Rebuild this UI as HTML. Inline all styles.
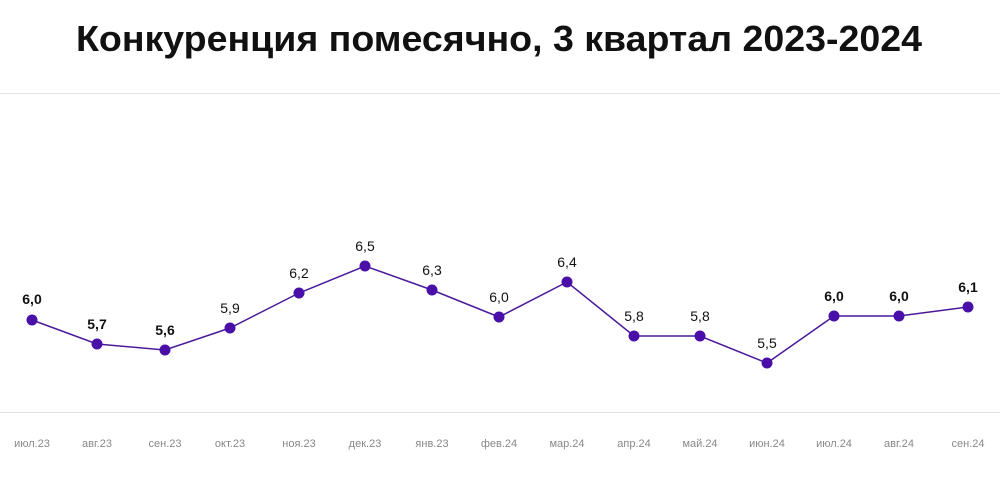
<!DOCTYPE html>
<html><head><meta charset="utf-8"><style>
body{margin:0;background:#fff;width:1000px;height:478px;overflow:hidden;font-family:"Liberation Sans",sans-serif}
</style></head><body>
<svg width="1000" height="478" xmlns="http://www.w3.org/2000/svg" font-family="Liberation Sans, sans-serif">
<text x="76" y="51" textLength="846" lengthAdjust="spacingAndGlyphs" font-size="36" font-weight="bold" fill="#111">Конкуренция помесячно, 3 квартал 2023-2024</text>
<line x1="0" y1="93.5" x2="1000" y2="93.5" stroke="#e4e4e4"/>
<line x1="0" y1="412.5" x2="1000" y2="412.5" stroke="#e0e0e0"/>
<polyline fill="none" stroke="#4b1a9a" stroke-width="1.5" points="32,320 97,344 165,350 230,328 299,293 365,266 432,290 499,317 567,282 634,336 700,336 767,363 834,316 899,316 968,307"/>
<g fill="#4a0fa8">
<circle cx="32" cy="320" r="5.5"/><circle cx="97" cy="344" r="5.5"/><circle cx="165" cy="350" r="5.5"/><circle cx="230" cy="328" r="5.5"/><circle cx="299" cy="293" r="5.5"/><circle cx="365" cy="266" r="5.5"/><circle cx="432" cy="290" r="5.5"/><circle cx="499" cy="317" r="5.5"/><circle cx="567" cy="282" r="5.5"/><circle cx="634" cy="336" r="5.5"/><circle cx="700" cy="336" r="5.5"/><circle cx="767" cy="363" r="5.5"/><circle cx="834" cy="316" r="5.5"/><circle cx="899" cy="316" r="5.5"/><circle cx="968" cy="307" r="5.5"/>
</g>
<g font-size="14" text-anchor="middle" fill="#111">
<text x="32" y="304" font-weight="bold">6,0</text>
<text x="97" y="329" font-weight="bold">5,7</text>
<text x="165" y="335" font-weight="bold">5,6</text>
<text x="230" y="313">5,9</text>
<text x="299" y="278">6,2</text>
<text x="365" y="251">6,5</text>
<text x="432" y="275">6,3</text>
<text x="499" y="302">6,0</text>
<text x="567" y="267">6,4</text>
<text x="634" y="321">5,8</text>
<text x="700" y="321">5,8</text>
<text x="767" y="348">5,5</text>
<text x="834" y="301" font-weight="bold">6,0</text>
<text x="899" y="301" font-weight="bold">6,0</text>
<text x="968" y="292" font-weight="bold">6,1</text>
</g>
<g font-size="11" text-anchor="middle" fill="#888">
<text x="32" y="447">июл.23</text><text x="97" y="447">авг.23</text><text x="165" y="447">сен.23</text><text x="230" y="447">окт.23</text><text x="299" y="447">ноя.23</text><text x="365" y="447">дек.23</text><text x="432" y="447">янв.23</text><text x="499" y="447">фев.24</text><text x="567" y="447">мар.24</text><text x="634" y="447">апр.24</text><text x="700" y="447">май.24</text><text x="767" y="447">июн.24</text><text x="834" y="447">июл.24</text><text x="899" y="447">авг.24</text><text x="968" y="447">сен.24</text>
</g>
</svg>
</body></html>
